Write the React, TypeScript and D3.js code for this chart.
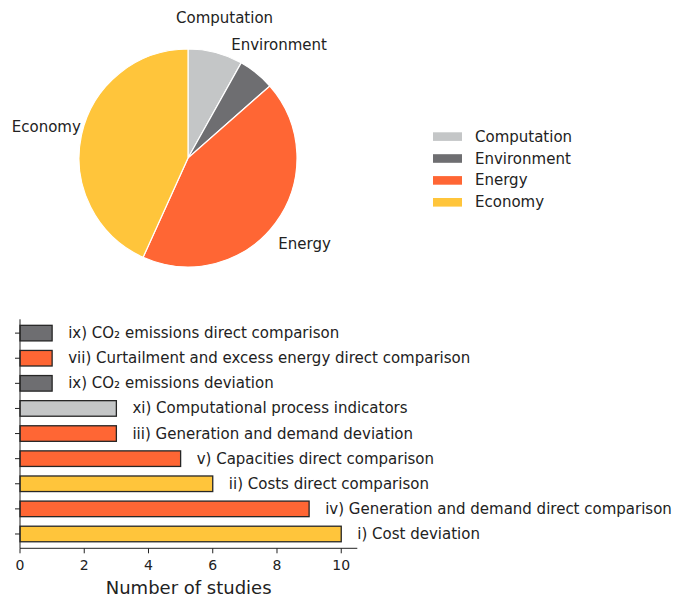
import React from "react";
import * as d3 from "d3";

const pieCategories = ["Computation", "Environment", "Energy", "Economy"];
const pieValues = [3, 2, 16, 16];
const categoryColors = ["#c4c6c7", "#6e6e71", "#ff6634", "#ffc53b"];

const barLabels = [
  "i) Cost deviation",
  "iv) Generation and demand direct comparison",
  "ii) Costs direct comparison",
  "v) Capacities direct comparison",
  "iii) Generation and demand deviation",
  "xi) Computational process indicators",
  "ix) CO₂ emissions deviation",
  "vii) Curtailment and excess energy direct comparison",
  "ix) CO₂ emissions direct comparison",
];
const barValues = [10, 9, 6, 5, 3, 3, 1, 1, 1];
const barCategories = ["Economy", "Energy", "Economy", "Energy", "Energy", "Computation", "Environment", "Energy", "Environment"];
const xTicks = [0, 2, 4, 6, 8, 10];
const xAxisTitle = "Number of studies";

const FONT = "DejaVu Sans, Verdana, sans-serif";
const TEXT = "#222222";

export default function App() {
  const color = d3.scaleOrdinal<string, string>().domain(pieCategories).range(categoryColors);

  // Pie
  const cx = 188, cy = 158, r = 109;
  const pie = d3.pie<number>().sort(null).value((d) => d)(pieValues);
  const arc = d3.arc<d3.PieArcDatum<number>>().innerRadius(0).outerRadius(r);
  const labelArc = d3.arc<d3.PieArcDatum<number>>().innerRadius(r * 1.33).outerRadius(r * 1.33);

  // Bars
  const x = d3.scaleLinear().domain([0, 10.5]).range([20, 357.3]);
  const y = d3.scaleLinear().domain([-0.57, 8.55]).range([548.3, 319.3]);
  const barH = 0.62;
  const indices = d3.range(barValues.length);

  return (
    <svg width={674} height={598} style={{ position: "absolute", left: 0, top: 0, background: "#fff" }} fontFamily={FONT}>
      <g transform={`translate(${cx},${cy})`}>
        {pie.map((p, i) => (
          <path key={i} d={arc(p) || ""} fill={color(pieCategories[i])} stroke="#fff" strokeWidth={1.2} />
        ))}
        {pie.map((p, i) => {
          const [lx, ly] = labelArc.centroid(p);
          return (
            <text key={i} x={lx} y={ly} textAnchor="middle" dominantBaseline="central" fontSize={15} fill={TEXT}>
              {pieCategories[i]}
            </text>
          );
        })}
      </g>

      <g>
        {pieCategories.map((c, i) => (
          <g key={c} transform={`translate(433,${136.6 + i * 21.9})`}>
            <rect x={0} y={-4.3} width={29} height={8.6} fill={color(c)} />
            <text x={42} y={0} dominantBaseline="central" fontSize={15} fill={TEXT}>
              {c}
            </text>
          </g>
        ))}
      </g>

      <g>
        {indices.map((i) => (
          <rect
            key={i}
            x={x(0)}
            y={y(i + barH / 2)}
            width={x(barValues[i]) - x(0)}
            height={y(i - barH / 2) - y(i + barH / 2)}
            fill={color(barCategories[i])}
            stroke="#262626"
            strokeWidth={1.3}
          />
        ))}
        {indices.map((i) => (
          <text
            key={i}
            x={x(barValues[i] + 0.5)}
            y={y(i)}
            dominantBaseline="central"
            fontSize={15}
            fill={TEXT}
          >
            {barLabels[i]}
          </text>
        ))}
        <line x1={x(0)} x2={x(0)} y1={y(8.55)} y2={y(-0.57)} stroke={TEXT} strokeWidth={1} />
        <line x1={x(0)} x2={x(10.5)} y1={y(-0.57)} y2={y(-0.57)} stroke={TEXT} strokeWidth={1} />
        {indices.map((i) => (
          <line key={i} x1={x(0) - 5} x2={x(0)} y1={y(i)} y2={y(i)} stroke={TEXT} strokeWidth={1} />
        ))}
        {xTicks.map((t) => (
          <g key={t}>
            <line x1={x(t)} x2={x(t)} y1={y(-0.57)} y2={y(-0.57) + 5} stroke={TEXT} strokeWidth={1} />
            <text x={x(t)} y={565} textAnchor="middle" dominantBaseline="central" fontSize={14} fill={TEXT}>
              {t}
            </text>
          </g>
        ))}
        <text x={(x(0) + x(10.5)) / 2} y={587} textAnchor="middle" dominantBaseline="central" fontSize={18} fill={TEXT}>
          {xAxisTitle}
        </text>
      </g>
    </svg>
  );
}
